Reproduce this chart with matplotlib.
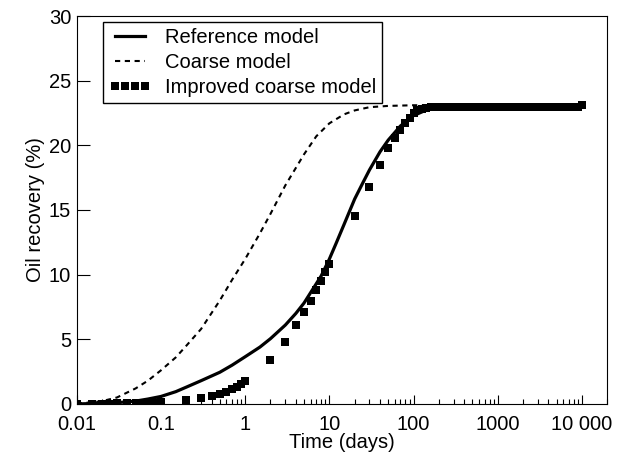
import numpy as np
import matplotlib
matplotlib.use('Agg')
import matplotlib.pyplot as plt
import matplotlib.ticker as ticker
matplotlib.rcParams.update({'font.size': 14.5, 'font.family': ['Liberation Sans', 'DejaVu Sans']})

# reference model (solid)
t_ref = [0.01, 0.015, 0.02, 0.03, 0.05, 0.07, 0.1, 0.15, 0.2, 0.3, 0.5, 0.7, 1, 1.5, 2, 3, 4, 5, 7, 8, 10,
         12, 15, 17, 20, 25, 30, 40, 50, 70, 100, 150, 200, 300, 1000, 10000]
r_ref = [0.0, 0.03, 0.05, 0.1, 0.22, 0.38, 0.58, 0.95, 1.3, 1.8, 2.45, 3.0, 3.65, 4.4, 5.05, 6.1, 7.0, 7.8, 9.3, 9.9, 11.2,
         12.4, 13.9, 14.75, 15.85, 17.1, 18.1, 19.5, 20.4, 21.5, 22.3, 22.8, 23.0, 23.05, 23.05, 23.05]

# coarse model (dashed)
t_coarse = [0.01, 0.015, 0.02, 0.03, 0.05, 0.07, 0.1, 0.15, 0.2, 0.3, 0.5, 0.7, 1, 1.5, 2, 3, 5, 7, 10,
            15, 20, 30, 50, 100, 200, 1000, 10000]
r_coarse = [0.05, 0.12, 0.22, 0.5, 1.2, 1.8, 2.6, 3.6, 4.5, 5.8, 8.0, 9.6, 11.2, 13.2, 14.7, 16.9, 19.3, 20.7, 21.7,
            22.4, 22.7, 22.95, 23.05, 23.1, 23.1, 23.1, 23.1]

# improved coarse model (squares)
t_imp = [0.01, 0.015, 0.02, 0.025, 0.03, 0.04, 0.05, 0.06, 0.07, 0.08, 0.09, 0.1,
         0.2, 0.3, 0.4, 0.5, 0.6, 0.7, 0.8, 0.9, 1.0,
         2, 3, 4, 5, 6, 7, 8, 9, 10,
         20, 30, 40, 50, 60, 70, 80, 90, 100,
         110, 125, 140, 160, 180, 200, 230, 260, 300, 350, 400, 450, 500, 600, 700, 800, 900, 1000,
         1200, 1400, 1600, 1800, 2000, 2300, 2600, 3000, 3500, 4000, 4500, 5000, 6000, 7000, 8000, 9000, 10000]
r_imp = [0.0, 0.0, 0.02, 0.03, 0.04, 0.05, 0.06, 0.07, 0.08, 0.09, 0.1, 0.12,
         0.3, 0.45, 0.65, 0.8, 0.95, 1.13, 1.34, 1.55, 1.78,
         3.4, 4.8, 6.1, 7.1, 8.0, 8.8, 9.5, 10.2, 10.8,
         14.5, 16.8, 18.5, 19.8, 20.6, 21.2, 21.7, 22.1, 22.5,
         22.7, 22.8, 22.9, 23.0, 23.0, 23.0, 23.0, 23.0, 23.0, 23.0, 23.0, 23.0, 23.0, 23.0, 23.0, 23.0, 23.0, 23.0,
         23.0, 23.0, 23.0, 23.0, 23.0, 23.0, 23.0, 23.0, 23.0, 23.0, 23.0, 23.0, 23.0, 23.0, 23.0, 23.0, 23.1]

xticks = [0.01, 0.1, 1, 10, 100, 1000, 10000]
xticklabels = ['0.01', '0.1', '1', '10', '100', '1000', '10 000']

fig = plt.figure(figsize=(6.19, 4.58), dpi=100)
ax = fig.add_axes([0.124, 0.118, 0.857, 0.847])

ax.plot(t_ref, r_ref, '-', color='black', lw=2.3, label='Reference model')
ax.plot(t_coarse, r_coarse, '--', color='black', lw=1.5, dashes=(2.5, 2.2), label='Coarse model')
ax.plot(t_imp, r_imp, 's', color='black', ms=6, mew=0, label='Improved coarse model')

ax.set_xscale('log')
ax.set_xlim(0.01, 20000)
ax.set_ylim(0, 30)
ax.set_xticks(xticks)
ax.set_xticklabels(xticklabels)
ax.xaxis.set_minor_locator(ticker.LogLocator(base=10, subs=np.arange(2, 10)))
ax.xaxis.set_minor_formatter(ticker.NullFormatter())
ax.set_yticks([0, 5, 10, 15, 20, 25, 30])
ax.tick_params(axis='x', which='major', direction='in', length=6.5, width=0.8, pad=8)
ax.tick_params(axis='x', which='minor', direction='in', length=3.5, width=0.8)
ax.tick_params(axis='y', direction='in', length=9, width=0.8, pad=4)

ax.set_xlabel('Time (days)', labelpad=-1)
ax.set_ylabel('Oil recovery (%)', labelpad=3)

leg = ax.legend(loc='upper left', bbox_to_anchor=(0.049, 0.985), numpoints=4, handlelength=2.1,
                fancybox=False, edgecolor='black', framealpha=1, borderpad=0.3,
                labelspacing=0.3, handletextpad=0.7, borderaxespad=0)
leg.get_frame().set_linewidth(1.0)

fig.savefig('out.png', dpi=100)
